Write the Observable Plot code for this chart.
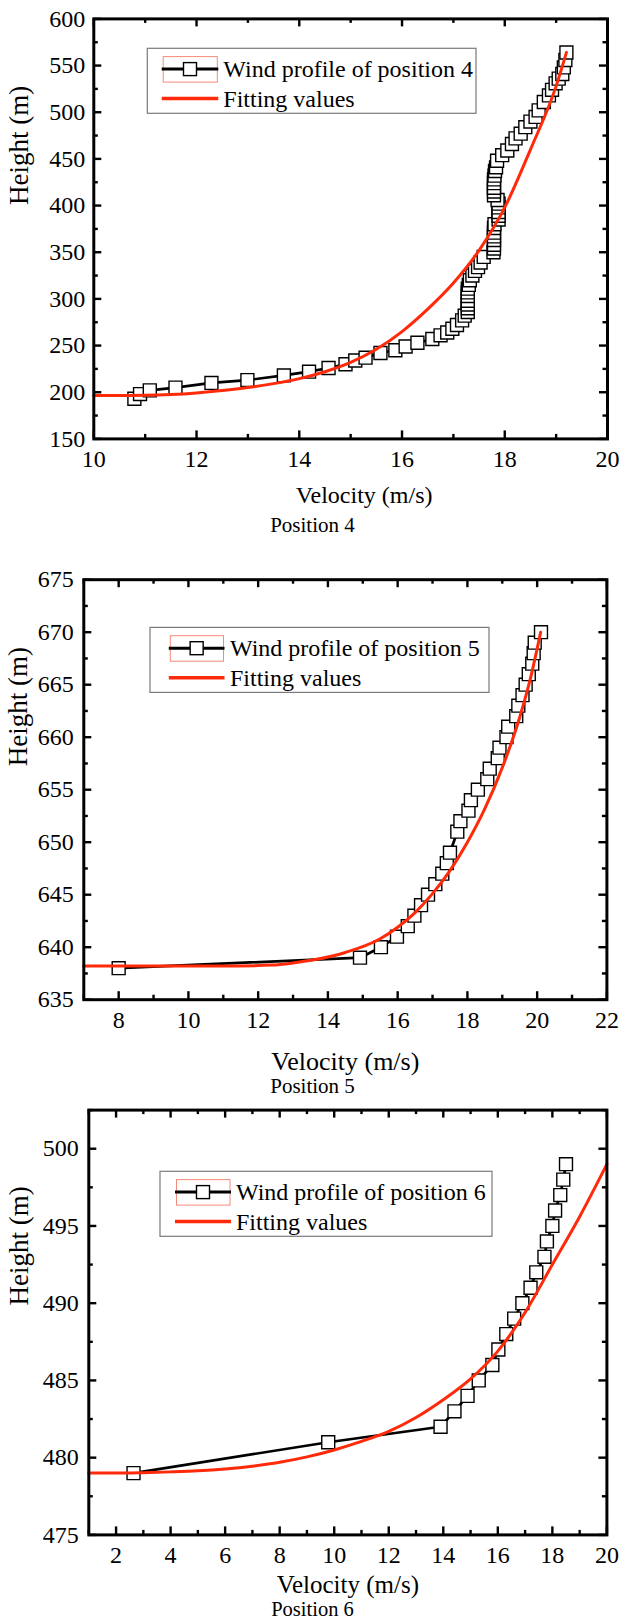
<!DOCTYPE html>
<html>
<head>
<meta charset="utf-8">
<script src="https://cdn.jsdelivr.net/npm/d3@7"></script>
<script src="https://cdn.jsdelivr.net/npm/@observablehq/plot@0.6"></script>
<style>
html, body { margin: 0; padding: 0; background: #fff; }
#root { position: relative; width: 620px; height: 1622px; overflow: hidden; background: #fff; }
#root svg text { font-family: "Liberation Serif", "Times New Roman", serif; font-weight: normal; }
</style>
</head>
<body>
<div id="root"></div>
<script>
// ---------- Position 4 ----------
const pos4Velocity = [10.79,10.90,11.09,11.59,12.29,12.99,13.70,14.19,14.57,14.90,15.09,15.29,15.58,15.87,16.07,16.30,16.59,16.75,16.88,16.98,17.07,17.17,17.22,17.28,17.28,17.28,17.28,17.28,17.28,17.28,17.30,17.32,17.37,17.42,17.48,17.53,17.59,17.78,17.79,17.79,17.79,17.79,17.79,17.79,17.80,17.88,17.88,17.88,17.88,17.88,17.86,17.79,17.79,17.79,17.79,17.79,17.80,17.81,17.83,17.85,17.95,18.05,18.14,18.21,18.31,18.40,18.50,18.60,18.66,18.76,18.86,18.92,18.99,19.05,19.12,19.15,19.18,19.20];
const pos4Height = [193,198,202,205,210,213,218,222,226,230,234,237,242,245,249,253,257,261,264,268,272,277,282,286,290,294,298,303,307,311,315,320,325,330,334,339,345,350,354,358,363,367,371,376,380,385,389,393,398,402,406,411,415,419,424,428,432,437,441,448,454,459,466,472,477,484,490,495,502,511,518,524,531,536,541,548,556,564];
const pos4FitVelocity = [10.0,10.5,11.0,11.5,12.0,12.5,13.0,13.5,14.0,14.5,15.0,15.5,16.0,16.5,17.0,17.5,18.0,18.5,19.0,19.2];
const pos4FitHeight = [196.5,196.5,196.7,197.6,199.3,201.8,205,209.2,214.6,222,232,246,265,289,317,352,398,460,528,564];
const pos4XTicks = [10,12,14,16,18,20];
const pos4XMinor = [11,13,15,17,19];
const pos4YTicks = [150,200,250,300,350,400,450,500,550,600];
const pos4YMinor = [175,225,275,325,375,425,475,525,575];

// ---------- Position 5 ----------
const pos5Velocity = [8.0,14.92,15.52,15.98,16.29,16.48,16.67,16.87,17.08,17.28,17.41,17.50,17.71,17.80,18.03,18.10,18.30,18.57,18.64,18.87,18.92,19.12,19.17,19.40,19.46,19.58,19.67,19.76,19.86,19.90,19.93,20.11];
const pos5Height = [638,639,640,641,642,643,644,645,646,647,648,649,651,652,653,654,655,656,657,658,659,660,661,662,663,664,665,666,667,668,669,670];
const pos5FitVelocity = [7,9,11,12.4,13,13.6,14.5,15.5,16,16.5,17,17.5,18,18.5,19,19.5,19.8,20.1];
const pos5FitHeight = [638.2,638.2,638.2,638.3,638.5,638.8,639.5,640.8,641.9,643.3,645.1,647.3,650.0,653.2,657.1,661.9,665.5,670];
const pos5XTicks = [8,10,12,14,16,18,20,22];
const pos5XMinor = [7,9,11,13,15,17,19,21];
const pos5YTicks = [635,640,645,650,655,660,665,670,675];
const pos5YMinor = [637.5,642.5,647.5,652.5,657.5,662.5,667.5,672.5];

// ---------- Position 6 ----------
const pos6Velocity = [2.64,9.78,13.90,14.41,14.89,15.30,15.80,16.02,16.31,16.60,16.90,17.20,17.41,17.71,17.80,18.00,18.10,18.29,18.40,18.50];
const pos6Height = [479,481,482,483,484,485,486,487,488,489,490,491,492,493,494,495,496,497,498,499];
const pos6FitVelocity = [1,2,3,4,5,6,7,8,9,10,11,12,13,14,15,16,17,18,19,20];
const pos6FitHeight = [479,479,479.03,479.08,479.15,479.27,479.45,479.7,480.05,480.5,481.05,481.7,482.6,483.75,485.1,486.9,489.4,492.5,495.6,499.0];
const pos6XTicks = [2,4,6,8,10,12,14,16,18,20];
const pos6XMinor = [1,3,5,7,9,11,13,15,17,19];
const pos6YTicks = [475,480,485,490,495,500];
const pos6YMinor = [477.5,482.5,487.5,492.5,497.5,502.5];

const xTitle = "Velocity (m/s)";
const yTitle = "Height (m)";
const fitLabel = "Fitting values";

const RED = "#ff2a0a";
const FONT = "Liberation Serif";
const W = 620;

function drawPanel(o) {
  const ph = o.height - o.mt - o.mb;
  const pw = W - o.ml - o.mr;
  const obs = o.vel.map((v, i) => ({v, h: o.hgt[i]}));
  const fit = o.fitVel.map((v, i) => ({v, h: o.fitHgt[i]}));
  const ts = {stroke: "black", strokeWidth: 2.4};
  const MJ = 8, MN = 4.5;
  const svg = Plot.plot({
    width: W, height: o.height,
    marginTop: o.mt, marginRight: o.mr, marginBottom: o.mb, marginLeft: o.ml,
    style: {background: "white", color: "black", overflow: "visible"},
    x: {domain: o.xDomain},
    y: {domain: o.yDomain},
    marks: [
      Plot.axisX({ticks: o.xTicks, tickSize: 0, tickPadding: 11, label: null, tickFormat: d => String(d), fontSize: 24, fontFamily: FONT}),
      Plot.axisY({ticks: o.yTicks, tickSize: 0, tickPadding: o.yPad, label: null, tickFormat: d => String(d), fontSize: 24, fontFamily: FONT}),
      // inward ticks on all four sides
      Plot.tickX(o.xTicks, {x: d => d, insetTop: ph - MJ, ...ts}),
      Plot.tickX(o.xTicks, {x: d => d, insetBottom: ph - MJ, ...ts}),
      Plot.tickX(o.xMinor, {x: d => d, insetTop: ph - MN, ...ts}),
      Plot.tickX(o.xMinor, {x: d => d, insetBottom: ph - MN, ...ts}),
      Plot.tickY(o.yTicks, {y: d => d, insetRight: pw - MJ, ...ts}),
      Plot.tickY(o.yTicks, {y: d => d, insetLeft: pw - MJ, ...ts}),
      Plot.tickY(o.yMinor, {y: d => d, insetRight: pw - MN, ...ts}),
      Plot.tickY(o.yMinor, {y: d => d, insetLeft: pw - MN, ...ts}),
      // data
      Plot.line(obs, {x: "v", y: "h", stroke: "black", strokeWidth: 2.7}),
      Plot.dot(obs, {x: "v", y: "h", symbol: "square", r: 7.3, fill: "white", stroke: "black", strokeWidth: 1.4}),
      Plot.line(fit, {x: "v", y: "h", stroke: RED, strokeWidth: 3, curve: "monotone-x"}),
      Plot.frame({stroke: "black", strokeWidth: 3}),
      // titles
      Plot.text([xTitle], {text: d => d, frameAnchor: "bottom", dx: o.xtDx, dy: o.xtDy, fontSize: o.xtSize, fontFamily: FONT, lineAnchor: "middle"}),
      Plot.text([o.caption], {text: d => d, frameAnchor: "bottom", dx: o.capDx, dy: o.capDy, fontSize: o.capSize, fontFamily: FONT, lineAnchor: "middle"}),
      Plot.text([yTitle], {text: d => d, frameAnchor: "left", rotate: -90, dx: o.ytDx, dy: o.ytDy, fontSize: 27, fontFamily: FONT, lineAnchor: "middle"})
    ]
  });
  d3.select(svg).attr("font-family", FONT);
  d3.select(svg).selectAll("text").attr("font-family", FONT);

  // legend
  const L = o.legend;
  const g = d3.select(svg).append("g")
    .attr("font-family", FONT).attr("font-size", 24).attr("text-anchor", "start");
  const symY = L.y + 20.8;
  g.append("rect").attr("x", L.x).attr("y", L.y).attr("width", L.w).attr("height", 65)
    .attr("fill", "white").attr("stroke", "#7a7a7a").attr("stroke-width", 1.2);
  g.append("rect").attr("x", L.lx1 + 1.5).attr("y", symY - 12.5).attr("width", L.lx2 - L.lx1 - 2.5).attr("height", 25.5)
    .attr("fill", "none").attr("stroke", "#f58a7a").attr("stroke-width", 1);
  g.append("line").attr("x1", L.lx1).attr("x2", L.lx2).attr("y1", symY).attr("y2", symY)
    .attr("stroke", "black").attr("stroke-width", 3);
  const sq = 13;
  g.append("rect").attr("x", (L.lx1 + L.lx2) / 2 - sq / 2).attr("y", symY - sq / 2).attr("width", sq).attr("height", sq)
    .attr("fill", "white").attr("stroke", "black").attr("stroke-width", 1.4);
  g.append("text").attr("x", L.tx).attr("y", L.y + 28.6).attr("fill", "black").text(o.seriesLabel);
  g.append("line").attr("x1", L.lx1).attr("x2", L.lx2).attr("y1", L.y + 50.3).attr("y2", L.y + 50.3)
    .attr("stroke", RED).attr("stroke-width", 3.5);
  g.append("text").attr("x", L.tx).attr("y", L.y + 58.6).attr("fill", "black").text(fitLabel);

  svg.style.position = "absolute";
  svg.style.left = "0px";
  svg.style.top = o.top + "px";
  document.getElementById("root").appendChild(svg);
}

drawPanel({
  top: 0, height: 540, mt: 18.4, mb: 101.6, ml: 93.3, mr: 13, yPad: 8.5,
  xDomain: [10, 20], yDomain: [150, 600],
  xTicks: pos4XTicks, xMinor: pos4XMinor, yTicks: pos4YTicks, yMinor: pos4YMinor,
  vel: pos4Velocity, hgt: pos4Height, fitVel: pos4FitVelocity, fitHgt: pos4FitHeight,
  xtDx: 13.5, xtDy: 56.4, xtSize: 24,
  caption: "Position 4", capDx: -38.2, capDy: 86.6, capSize: 21,
  ytDx: -74.3, ytDy: -23.8,
  seriesLabel: "Wind profile of position 4",
  legend: {x: 147.3, y: 48.3, w: 328.7, lx1: 161.7, lx2: 218.3, tx: 223.3}
});

drawPanel({
  top: 540, height: 560, mt: 39.2, mb: 100.8, ml: 83.3, mr: 13.6, yPad: 10,
  xDomain: [7, 22], yDomain: [635, 675],
  xTicks: pos5XTicks, xMinor: pos5XMinor, yTicks: pos5YTicks, yMinor: pos5YMinor,
  vel: pos5Velocity, hgt: pos5Height, fitVel: pos5FitVelocity, fitHgt: pos5FitHeight,
  xtDx: 0, xtDy: 61.5, xtSize: 26,
  caption: "Position 5", capDx: -32.85, capDy: 86.6, capSize: 21,
  ytDx: -65.3, ytDy: -23.4,
  seriesLabel: "Wind profile of position 5",
  legend: {x: 150, y: 87.4, w: 339, lx1: 168.8, lx2: 224.5, tx: 230}
});

drawPanel({
  top: 1100, height: 522, mt: 9.6, mb: 87.6, ml: 88.3, mr: 13.6, yPad: 10,
  xDomain: [1, 20], yDomain: [475, 502.5],
  xTicks: pos6XTicks, xMinor: pos6XMinor, yTicks: pos6YTicks, yMinor: pos6YMinor,
  vel: pos6Velocity, hgt: pos6Height, fitVel: pos6FitVelocity, fitHgt: pos6FitHeight,
  xtDx: 0, xtDy: 49.8, xtSize: 25,
  caption: "Position 6", capDx: -35.35, capDy: 74.8, capSize: 20.5,
  ytDx: -69.3, ytDy: -17,
  seriesLabel: "Wind profile of position 6",
  legend: {x: 160, y: 71.3, w: 332, lx1: 175, lx2: 231, tx: 236}
});
</script>
</body>
</html>
